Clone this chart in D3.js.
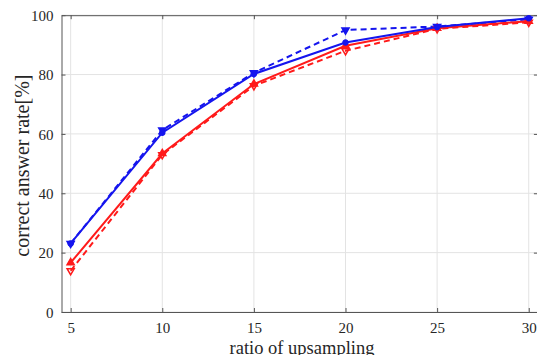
<!DOCTYPE html>
<html>
<head>
<meta charset="utf-8">
<script src="https://cdn.jsdelivr.net/npm/d3@7"></script>
<style>
  body { margin: 0; background: #fff; }
  svg { display: block; }
</style>
</head>
<body>
<div id="chart"></div>
<script>
var ratios = [5, 10, 15, 20, 25, 30];
var blueSolid = [23.1, 60.4, 80.2, 90.8, 96.0, 99.0];
var blueDashed = [23.1, 61.3, 80.6, 95.0, 96.2, 98.6];
var redSolid = [16.6, 53.4, 76.8, 89.7, 95.6, 98.0];
var redDashed = [13.9, 53.0, 76.2, 88.0, 95.4, 97.6];
var xTicks = [5, 10, 15, 20, 25, 30];
var yTicks = [0, 20, 40, 60, 80, 100];

var serif = '"Liberation Serif", "DejaVu Serif", "Noto Serif", serif';
var W = 537, H = 355;
var mLeft = 61.5, mRight = 537.9, mTop = 15.2, mBottom = 312;

var svg = d3.select("#chart").append("svg")
    .attr("width", W)
    .attr("height", H);

var x = d3.scaleLinear().domain([4.5, 30.5]).range([mLeft, mRight]);
var y = d3.scaleLinear().domain([0, 100]).range([mBottom, mTop]);

// grid
svg.append("g").selectAll("line").data(xTicks).enter().append("line")
    .attr("x1", d => x(d)).attr("x2", d => x(d))
    .attr("y1", mTop).attr("y2", mBottom)
    .attr("stroke", "#e3e3e3").attr("stroke-width", 1);
svg.append("g").selectAll("line").data(yTicks).enter().append("line")
    .attr("x1", mLeft).attr("x2", mRight)
    .attr("y1", d => y(d)).attr("y2", d => y(d))
    .attr("stroke", "#e3e3e3").attr("stroke-width", 1);

// axes (ticks inward)
var xAxis = svg.append("g").attr("transform", "translate(0," + mBottom + ")")
    .call(d3.axisBottom(x).tickValues(xTicks).tickSizeInner(-4).tickSizeOuter(0).tickPadding(10));
var xTop = svg.append("g").attr("transform", "translate(0," + mTop + ")")
    .call(d3.axisTop(x).tickValues(xTicks).tickSizeInner(-4).tickSizeOuter(0).tickFormat(""));
var yAxis = svg.append("g").attr("transform", "translate(" + mLeft + ",0)")
    .call(d3.axisLeft(y).tickValues(yTicks).tickSizeInner(-4).tickSizeOuter(0).tickPadding(8));
var yRight = svg.append("g").attr("transform", "translate(" + mRight + ",0)")
    .call(d3.axisRight(y).tickValues(yTicks).tickSizeInner(-4).tickSizeOuter(0).tickFormat(""));

[xAxis, xTop, yAxis, yRight].forEach(function (g) {
    g.attr("font-family", null).attr("font-size", null);
    g.select(".domain").attr("stroke", "#555").attr("stroke-width", 1);
    g.selectAll(".tick line").attr("stroke", "#555");
    g.selectAll("text").attr("fill", "#262626")
        .style("font-family", serif).style("font-size", "15px");
});
xAxis.selectAll("text").attr("dy", "0.71em");
yAxis.selectAll("text").attr("dy", "0.35em");

// labels
svg.append("text")
    .attr("x", 302).attr("y", 354)
    .attr("text-anchor", "middle")
    .style("font-family", serif).style("font-size", "18.5px").attr("fill", "#262626")
    .text("ratio of upsampling");
svg.append("text")
    .attr("transform", "translate(29," + (y(50) + 2) + ") rotate(-90)")
    .attr("text-anchor", "middle")
    .style("font-family", serif).style("font-size", "20px").attr("fill", "#262626")
    .text("correct answer rate[%]");

var line = d3.line().x((d, i) => x(ratios[i])).y(d => y(d));

var series = [
    {v: blueDashed, color: "#1515ee", dash: "6,4", marker: "down", fill: "#1515ee"},
    {v: redDashed, color: "#ff1a1a", dash: "6,4", marker: "down", fill: "none"},
    {v: redSolid, color: "#ff1a1a", dash: null, marker: "up", fill: "#ff1a1a"},
    {v: blueSolid, color: "#1515ee", dash: null, marker: "circle", fill: "#1515ee"}
];

var triUp = d3.symbol().type(d3.symbolTriangle).size(22)();
series.forEach(function (s) {
    svg.append("path")
        .attr("d", line(s.v))
        .attr("fill", "none")
        .attr("stroke", s.color)
        .attr("stroke-width", 2)
        .attr("stroke-dasharray", s.dash);
    var m = svg.append("g").selectAll("path").data(s.v).enter().append("path")
        .attr("stroke", s.color).attr("stroke-width", 1.5)
        .attr("fill", s.fill);
    if (s.marker === "circle") {
        m.attr("d", d3.symbol().type(d3.symbolCircle).size(20)())
            .attr("transform", (d, i) => "translate(" + x(ratios[i]) + "," + y(d) + ")");
    } else if (s.marker === "up") {
        m.attr("d", triUp)
            .attr("transform", (d, i) => "translate(" + x(ratios[i]) + "," + y(d) + ")");
    } else {
        m.attr("d", triUp)
            .attr("transform", (d, i) => "translate(" + x(ratios[i]) + "," + y(d) + ") rotate(180)");
    }
});
</script>
</body>
</html>
